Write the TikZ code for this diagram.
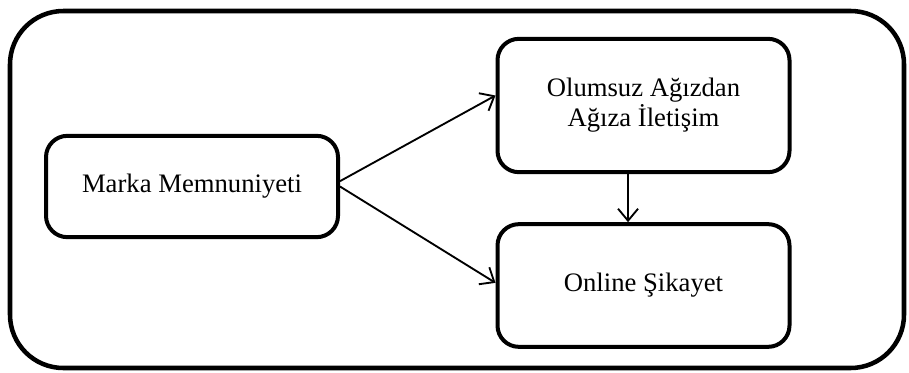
\documentclass[tikz,border=0pt]{standalone}
\usepackage{fontspec}
\setmainfont{Liberation Serif}
\usetikzlibrary{positioning,arrows.meta}

\begin{document}
\begin{tikzpicture}[x=0.75pt,y=-0.75pt,
    box/.style={draw, line width=3pt, rounded corners=16pt, minimum width=219pt,
        align=center, font=\fontsize{20}{22.5}\selectfont},
    link/.style={line width=1.4pt, -{Straight Barb[length=9pt,width=15pt]}}]
\useasboundingbox (0,0) rectangle (909,372);

% Outer frame
\draw[line width=3.4pt, rounded corners=40pt] (10,11) rectangle (904,368);

% Boxes
\node[box, minimum height=76pt] (marka) at (192,186.5) {Marka Memnuniyeti};
\node[box, minimum height=100pt] (olumsuz) at (643.5,105.5) {Olumsuz Ağızdan\\Ağıza İletişim};
\node[box, minimum height=92pt] (online) at (643.5,285.5) {Online Şikayet};

% Arrows
\draw[link] ([yshift=4pt]marka.east) -- ([yshift=7.5pt]olumsuz.west);
\draw[link] (marka.east) -- ([yshift=2pt]online.west);
\draw[link] ([xshift=-11.6pt]olumsuz.south) -- ([xshift=-11.6pt]online.north);
\end{tikzpicture}
\end{document}
